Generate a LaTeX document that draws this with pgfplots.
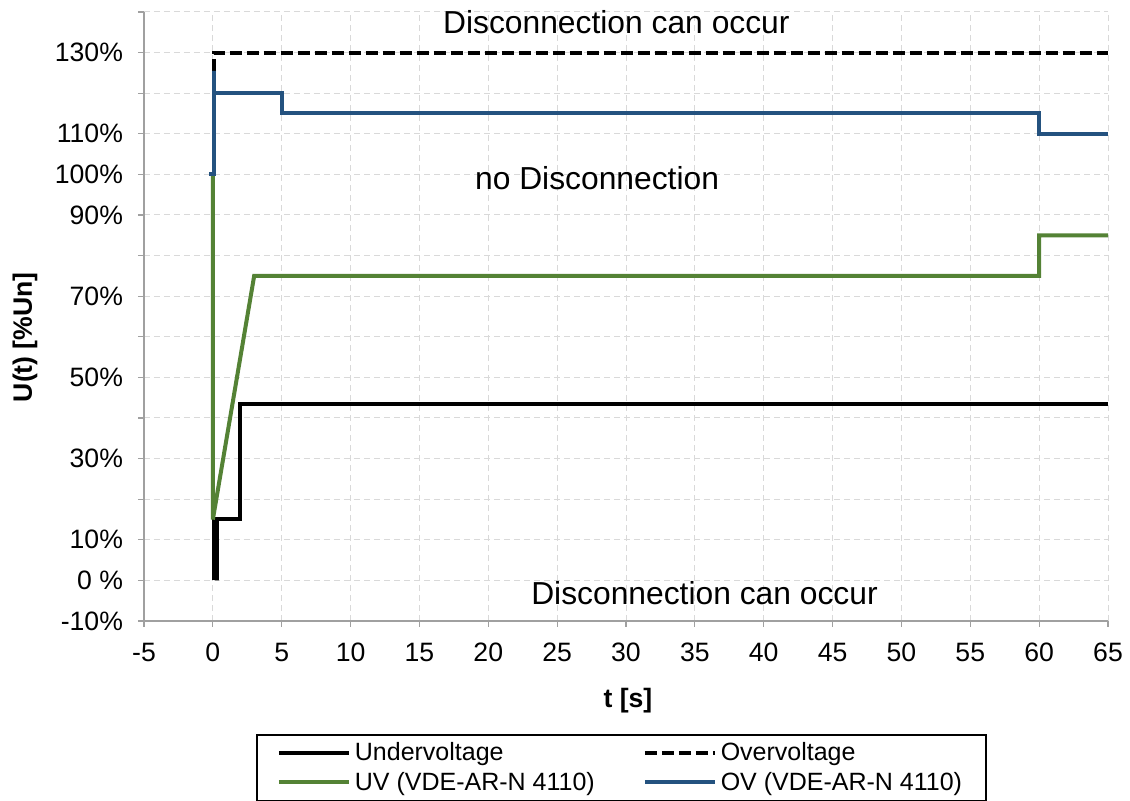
\documentclass[border=0pt]{standalone}
\usepackage{pgfplots}
\pgfplotsset{compat=1.18}
\usepackage{fontspec}
\setmainfont{Liberation Sans}
\usetikzlibrary{calc}
\definecolor{uvgreen}{RGB}{84,130,53}
\definecolor{ovblue}{RGB}{36,82,127}
\definecolor{axgray}{RGB}{160,160,160}
\definecolor{gridgray}{RGB}{217,217,217}

\begin{document}
\begin{tikzpicture}
\begin{axis}[
    name=ax,
    scale only axis,
    width=482pt, height=304.5pt,
    xmin=-5, xmax=65,
    ymin=-10, ymax=140,
    axis x line=bottom, axis y line=left,
    axis line style={-, axgray, line width=0.6pt},
    tick align=outside,
    major tick length=3pt,
    tick style={axgray, line width=0.6pt},
    xtick={-5,0,...,65},
    ytick={-10,0,...,140},
    yticklabels={-10\%,0 \%,10\%,,30\%,,50\%,,70\%,,90\%,100\%,110\%,,130\%,},
    /pgf/number format/assume math mode=true,
    ticklabel style={font=\fontsize{13.3}{16}\selectfont},
    yticklabel style={xshift=-4pt},
    xticklabel style={yshift=-4.5pt},
    grid=major,
    major grid style={gridgray, dash pattern=on 3pt off 2pt, line width=0.5pt},
    xlabel={\textbf{t [s]}},
    ylabel={\textbf{U(t) [\%Un]}},
    label style={font=\fontsize{13.3}{16}\selectfont},
    xlabel style={at={(axis description cs:0.502,-0.13)}, anchor=center},
    ylabel style={at={(axis description cs:-0.1234,0.466)}, anchor=center},
    clip=false,
    legend columns=2,
    legend style={
        at={(axis description cs:0.4953,-0.1856)}, anchor=north,
        draw=black, line width=0.8pt,
        font=\fontsize{12.5}{16}\selectfont,
        cells={anchor=west},
        inner xsep=10pt, inner ysep=2pt,
        /tikz/every even column/.append style={column sep=22pt},
        /tikz/every row/.append style={row sep=1pt},
    },
    legend image code/.code={\draw[#1] (0pt,0pt) -- (35pt,0pt);},
]
% Undervoltage
\addplot[black, line width=2pt] coordinates {
    (0.05,0)(0.05,15)(0.3,15)(0.3,0)(0.3,15)(2,15)(2,43.5)(65,43.5)
};
\addlegendentry{Undervoltage}
% Overvoltage
\addplot[black, line width=2pt, dash pattern=on 6pt off 2.5pt] coordinates {
    (0.07,125.5)(0.07,130)(65,130)
};
\addlegendentry{Overvoltage}
% UV (VDE-AR-N 4110)
\addplot[uvgreen, line width=2pt] coordinates {
    (0,100)(0,15)(3,75)(60,75)(60,85)(65,85)
};
\addlegendentry{UV (VDE-AR-N 4110)}
% OV (VDE-AR-N 4110)
\addplot[ovblue, line width=2pt] coordinates {
    (-0.25,100)(0.1,100)(0.1,125.5)(0.1,120)(5,120)(5,115)(60,115)(60,110)(65,110)
};
\addlegendentry{OV (VDE-AR-N 4110)}

\node[font=\fontsize{15.9}{19}\selectfont] at (axis cs:29.3,137.4) {Disconnection can occur};
\node[font=\fontsize{15.9}{19}\selectfont] at (axis cs:27.9,99) {no Disconnection};
\node[font=\fontsize{15.9}{19}\selectfont] at (axis cs:35.7,-3.2) {Disconnection can occur};
\end{axis}
\pgfresetboundingbox
\path[use as bounding box] ($(ax.south west)+(-72pt,-90pt)$) rectangle ($(ax.north east)+(11pt,6pt)$);
\end{tikzpicture}
\end{document}
